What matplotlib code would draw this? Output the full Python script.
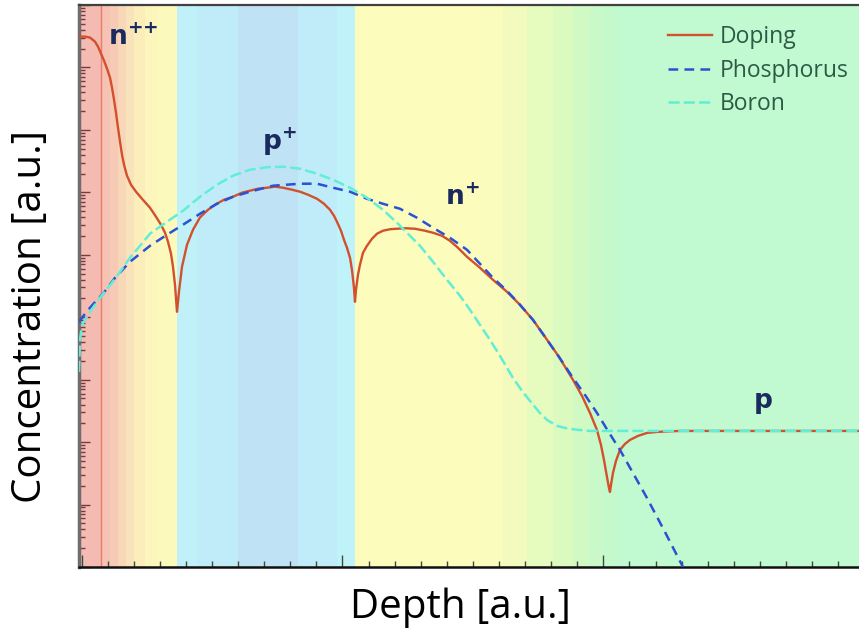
import numpy as np
import matplotlib
matplotlib.use("Agg")
import matplotlib.pyplot as plt
from matplotlib.ticker import MultipleLocator, LogLocator, NullFormatter

plt.rcParams["lines.scale_dashes"] = False

# ---- doping profile data (depth in a.u., log10 of concentration in a.u.) ----
doping_depth = [-0.0100, 0.0130, 0.0322, 0.0514, 0.0629, 0.0744, 0.0859, 0.0974, 0.1089, 0.1165,
                0.1242, 0.1318, 0.1395, 0.1472, 0.1548, 0.1625, 0.1740, 0.1893, 0.2085, 0.2315,
                0.2622, 0.2852, 0.3043, 0.3197, 0.3312, 0.3427, 0.3503, 0.3580, 0.3657, 0.3733,
                0.3848, 0.4040, 0.4270, 0.4538, 0.4845, 0.5113, 0.5458, 0.5803, 0.6148, 0.6454,
                0.6761, 0.7106, 0.7413, 0.7720, 0.8065, 0.8371, 0.8678, 0.9023, 0.9291, 0.9521,
                0.9674, 0.9789, 0.9943, 1.0058, 1.0173, 1.0288, 1.0364, 1.0441, 1.0479, 1.0518,
                1.0594, 1.0671, 1.0786, 1.0939, 1.1131, 1.1322, 1.1552, 1.1821, 1.2089, 1.2396,
                1.2779, 1.3162, 1.3469, 1.3814, 1.4120, 1.4427, 1.4772, 1.5270, 1.5769, 1.6306,
                1.6804, 1.7302, 1.7762, 1.8299, 1.8836, 1.9181, 1.9487, 1.9755, 1.9909, 2.0024,
                2.0139, 2.0215, 2.0254, 2.0292, 2.0369, 2.0484, 2.0637, 2.0829, 2.1020, 2.1327,
                2.1672, 2.2055, 2.2439, 2.2937, 2.9800]
doping_log = [8.494, 8.494, 8.478, 8.413, 8.333, 8.221, 8.109, 7.981, 7.837, 7.676,
              7.484, 7.276, 7.035, 6.811, 6.603, 6.442, 6.266, 6.122, 6.010, 5.897,
              5.753, 5.609, 5.481, 5.353, 5.208, 5.016, 4.808, 4.519, 4.087, 4.407,
              4.808, 5.160, 5.401, 5.598, 5.721, 5.801, 5.881, 5.929, 5.994, 6.026,
              6.058, 6.074, 6.090, 6.074, 6.042, 6.010, 5.962, 5.897, 5.817, 5.721,
              5.625, 5.529, 5.385, 5.240, 5.112, 4.952, 4.760, 4.471, 4.247, 4.439,
              4.679, 4.840, 5.032, 5.144, 5.256, 5.337, 5.385, 5.409, 5.417, 5.425,
              5.417, 5.385, 5.353, 5.304, 5.224, 5.112, 4.968, 4.792, 4.599, 4.407,
              4.199, 3.958, 3.686, 3.365, 2.997, 2.740, 2.468, 2.196, 1.955, 1.715,
              1.442, 1.266, 1.202, 1.314, 1.506, 1.699, 1.875, 1.971, 2.035, 2.099,
              2.147, 2.163, 2.171, 2.179, 2.179]

phos_depth = [-0.0100, 0.0130, 0.0322, 0.0590, 0.0820, 0.1280, 0.1855, 0.2622, 0.3273, 0.3887,
              0.4538, 0.5190, 0.5803, 0.6454, 0.7336, 0.8371, 0.9023, 0.9636, 1.0288, 1.0939,
              1.1552, 1.2204, 1.2855, 1.3469, 1.4120, 1.4772, 1.5270, 1.5769, 1.6306, 1.6804,
              1.7302, 1.7762, 1.8299, 1.8836, 1.9296, 1.9755, 2.0177, 2.0637, 2.1135, 2.1672,
              2.2362, 2.3052, 2.3704]
phos_log = [3.926, 4.054, 4.151, 4.279, 4.375, 4.631, 4.888, 5.144, 5.321, 5.481,
            5.657, 5.817, 5.929, 6.010, 6.106, 6.138, 6.138, 6.074, 6.010, 5.897,
            5.817, 5.737, 5.593, 5.433, 5.272, 5.080, 4.856, 4.631, 4.423, 4.199,
            3.958, 3.686, 3.365, 3.029, 2.756, 2.468, 2.179, 1.875, 1.506, 1.106,
            0.561, 0.000, -0.529]

boron_depth = [-0.0100, -0.0061, 0.0015, 0.0322, 0.0705, 0.1280, 0.1855, 0.2622, 0.3273, 0.3887,
               0.4538, 0.5190, 0.5803, 0.6454, 0.7106, 0.7720, 0.8371, 0.9023, 0.9636, 1.0288,
               1.0939, 1.1552, 1.2127, 1.2587, 1.2970, 1.3469, 1.4005, 1.4504, 1.4887, 1.5270,
               1.5653, 1.6037, 1.6535, 1.6880, 1.7187, 1.7532, 1.7839, 1.8222, 1.8606, 1.9027,
               1.9487, 2.9800]
boron_log = [3.125, 3.638, 3.878, 4.087, 4.311, 4.615, 4.952, 5.337, 5.529, 5.705,
             5.929, 6.122, 6.266, 6.362, 6.402, 6.410, 6.378, 6.298, 6.202, 6.074,
             5.913, 5.721, 5.497, 5.304, 5.144, 4.888, 4.599, 4.343, 4.119, 3.878,
             3.638, 3.381, 3.029, 2.821, 2.660, 2.484, 2.356, 2.260, 2.220, 2.196,
             2.179, 2.179]

# ---- background regions (depth edges) ----
region_edges = [-0.010, 0.074, 0.109, 0.140, 0.171, 0.201, 0.243, 0.289, 0.366,
                0.442, 0.599, 0.829, 0.979, 1.048, 1.527, 1.615, 1.707, 1.807,
                1.883, 1.948, 1.998, 2.052, 2.980]
region_colors = ["#f3bbb2", "#f5c2b4", "#f6cab5", "#f8d6b8", "#f9e3ba", "#fbeebb",
                 "#fcf5bc", "#fcf9bd",
                 "#c0f1f9", "#c0ebf8", "#bfe3f5", "#c0ebf8", "#c0f2fa",
                 "#fcfcbd", "#f9fcbd", "#f2fbbd", "#e6fbbe", "#dafabf",
                 "#d0f9c3", "#c9f9c8", "#c4f9cc", "#c1f9d0"]
surface_depth = 0.074

region_labels = [r"$\mathbf{n^{{+}{+}}}$", r"$\mathbf{p^{+}}$", r"$\mathbf{n^{+}}$", r"$\mathbf{p}$"]

fig = plt.figure(figsize=(8.59, 6.35), dpi=100)
ax = fig.add_axes([79 / 859, 68 / 635, 780 / 859, 562 / 635])

for x0, x1, c in zip(region_edges[:-1], region_edges[1:], region_colors):
    ax.axvspan(x0, x1, color=c, lw=0, zorder=0)
ax.axvline(surface_depth, color="#ee7a6a", lw=1.0, zorder=1)

ax.plot(doping_depth, 10 ** np.array(doping_log), color="#d2502c", lw=1.7,
        label="Doping", zorder=3)
ax.plot(phos_depth, 10 ** np.array(phos_log), color="#2a52d2", lw=1.8,
        dashes=(7, 4.5), label="Phosphorus", zorder=4)
ax.plot(boron_depth, 10 ** np.array(boron_log), color="#62eed6", lw=1.8,
        dashes=(8, 3), label="Boron", zorder=5)

ax.set_yscale("log")
ax.set_xlim(-0.01, 2.98)
ax.set_ylim(1, 1e9)

ax.xaxis.set_major_locator(MultipleLocator(1))
ax.xaxis.set_minor_locator(MultipleLocator(0.1))
ax.yaxis.set_major_locator(LogLocator(base=10, numticks=20))
ax.yaxis.set_minor_locator(LogLocator(base=10, subs=np.arange(2, 10), numticks=20))
for axis in (ax.xaxis, ax.yaxis):
    axis.set_major_formatter(NullFormatter())
    axis.set_minor_formatter(NullFormatter())

ax.tick_params(axis="y", which="major", direction="in", length=8, width=1, colors="#7a3a3a")
ax.tick_params(axis="y", which="minor", direction="in", length=4, width=1, colors="#7a3a3a")
ax.tick_params(axis="x", which="major", direction="in", length=9, width=1, colors="#3c4a3c")
ax.tick_params(axis="x", which="minor", direction="in", length=4, width=1, colors="#3c4a3c")

ax.spines["right"].set_visible(False)
ax.spines["left"].set_color("#6e6e6e")
ax.spines["left"].set_linewidth(2.5)
ax.spines["top"].set_color("#404040")
ax.spines["top"].set_linewidth(1.6)
ax.spines["bottom"].set_color("#101010")
ax.spines["bottom"].set_linewidth(1.8)

leg = ax.legend(loc="upper left", frameon=False,
                prop={"family": "Open Sans", "size": 16.5},
                handlelength=1.9, handletextpad=0.35, labelspacing=0.42,
                borderpad=0.0, borderaxespad=0.0,
                bbox_to_anchor=((668 - 79) / 780, 1 - (25 - 5) / 562))
for t in leg.get_texts():
    t.set_color("#2d5a45")

label_pos = [(108, 45), (262, 150), (445, 205), (753, 408)]
for text, (px, py) in zip(region_labels, label_pos):
    fig.text(px / 859, 1 - py / 635, text, fontsize=19, color="#1a2a5e",
             ha="left", va="baseline")

fig.text(460 / 859, 1 - 608 / 635, "Depth [a.u.]", fontsize=29,
         family="Open Sans", ha="center", va="center")
fig.text(31 / 859, 1 - 316 / 635, "Concentration [a.u.]", fontsize=29,
         family="Open Sans", rotation=90, ha="center", va="center")

fig.savefig("out.png", dpi=100)
